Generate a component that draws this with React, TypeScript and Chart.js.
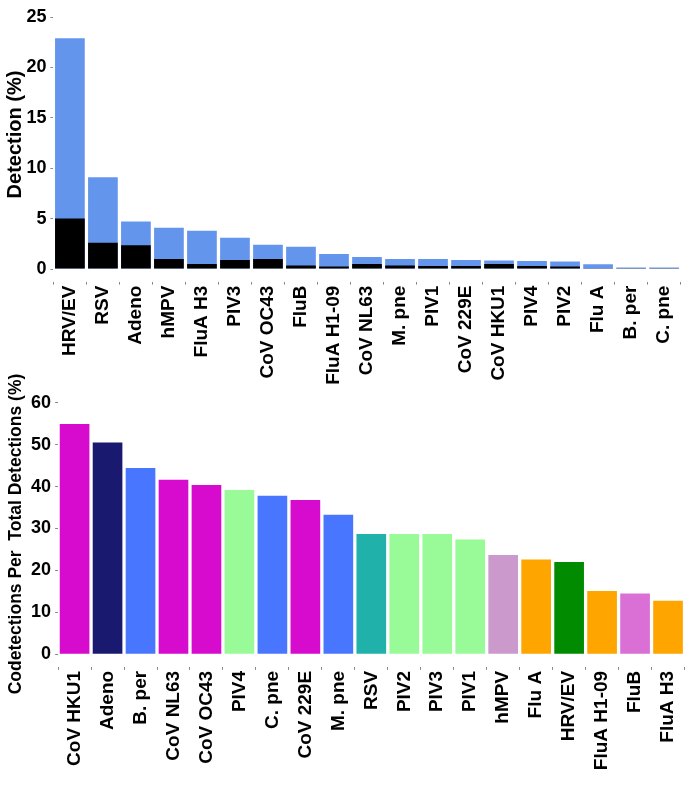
import React, { useEffect, useRef } from 'react';
import { Chart, registerables } from 'chart.js';

Chart.register(...registerables);

const FONT = "'Liberation Sans', Arial, Helvetica, sans-serif";

// ---- Top chart data ----
const TOP_CATEGORIES = ['HRV/EV', 'RSV', 'Adeno', 'hMPV', 'FluA H3', 'PIV3', 'CoV OC43', 'FluB', 'FluA H1-09', 'CoV NL63', 'M. pne', 'PIV1', 'CoV 229E', 'CoV HKU1', 'PIV4', 'PIV2', 'Flu A', 'B. per', 'C. pne'];
const TOP_TOTAL_DETECTION = [22.9, 9.1, 4.7, 4.1, 3.8, 3.1, 2.4, 2.2, 1.5, 1.2, 1.0, 1.0, 0.9, 0.85, 0.8, 0.75, 0.47, 0.15, 0.15];
const TOP_CODETECTION = [5.0, 2.6, 2.35, 1.0, 0.5, 0.9, 1.0, 0.35, 0.25, 0.5, 0.35, 0.3, 0.3, 0.5, 0.3, 0.25, 0.03, 0.08, 0.08];
const TOP_Y_TICKS = [0, 5, 10, 15, 20, 25];

// ---- Bottom chart data ----
const BOTTOM_CATEGORIES = ['CoV HKU1', 'Adeno', 'B. per', 'CoV NL63', 'CoV OC43', 'PIV4', 'C. pne', 'CoV 229E', 'M. pne', 'RSV', 'PIV2', 'PIV3', 'PIV1', 'hMPV', 'Flu A', 'HRV/EV', 'FluA H1-09', 'FluB', 'FluA H3'];
const BOTTOM_RATIO = [54.9, 50.5, 44.4, 41.6, 40.4, 39.2, 37.8, 36.8, 33.3, 28.7, 28.7, 28.7, 27.4, 23.7, 22.6, 22.0, 15.1, 14.5, 12.8];
const BOTTOM_Y_TICKS = [0, 10, 20, 30, 40, 50, 60];

const BOTTOM_COLORS = ['#D60BCD', '#191970', '#4876FF', '#D60BCD', '#D60BCD', '#98FB98', '#4876FF', '#D60BCD', '#4876FF', '#20B2AA', '#98FB98', '#98FB98', '#98FB98', '#CC99CC', '#FFA500', '#008B00', '#FFA500', '#DA70D6', '#FFA500'];

const sideTitle = {
  id: 'sideTitle',
  afterDraw(chart: any, _args: any, opts: any) {
    if (!opts || !opts.text) return;
    const ctx = chart.ctx;
    ctx.save();
    ctx.translate(opts.x, opts.y);
    ctx.rotate(-Math.PI / 2);
    ctx.font = opts.font;
    ctx.fillStyle = '#000';
    ctx.textAlign = 'center';
    ctx.textBaseline = 'middle';
    ctx.fillText(opts.text, 0, 0);
    ctx.restore();
  },
};

function xScale(height: number, stacked: boolean) {
  return {
    stacked,
    offset: true,
    grid: { display: true, drawOnChartArea: false, drawTicks: true, tickLength: 3, tickColor: '#888', tickWidth: 1 },
    border: { display: false },
    ticks: {
      font: { family: FONT, size: 19, weight: 'bold' },
      color: '#000',
      minRotation: 90,
      maxRotation: 90,
      padding: 1,
      autoSkip: false,
    },
    afterFit: (s: any) => {
      s.height = height;
    },
  };
}

function yScale(min: number, max: number, tickVals: number[], width: number) {
  return {
    stacked: false,
    min,
    max,
    afterBuildTicks: (s: any) => {
      s.ticks = tickVals.map((v) => ({ value: v }));
    },
    grid: { display: true, drawOnChartArea: false, drawTicks: true, tickLength: 3, tickColor: '#888', tickWidth: 1 },
    border: { display: false },
    ticks: { font: { family: FONT, size: 18, weight: 'bold' }, color: '#000', padding: 4 },
    afterFit: (s: any) => {
      s.width = width;
    },
  };
}

function TopChart() {
  const ref = useRef<HTMLCanvasElement | null>(null);
  useEffect(() => {
    if (!ref.current) return;
    const chart = new Chart(ref.current, {
      type: 'bar',
      data: {
        labels: TOP_CATEGORIES,
        datasets: [
          { label: 'Codetection', data: TOP_CODETECTION, backgroundColor: '#000000', barPercentage: 0.9, categoryPercentage: 1 },
          { label: 'Detection', data: TOP_TOTAL_DETECTION, backgroundColor: '#6495ED', barPercentage: 0.9, categoryPercentage: 1 },
        ],
      },
      options: {
        responsive: false,
        animation: false,
        devicePixelRatio: 1,
        layout: { padding: { left: 0, right: 11.4, top: 17, bottom: 0 } },
        plugins: {
          legend: { display: false },
          tooltip: { enabled: false },
          sideTitle: { text: 'Detection (%)', x: 15, y: 134.5, font: `bold 20px ${FONT}` },
        } as any,
        scales: {
          x: xScale(392 - 281.6, true) as any,
          y: yScale(-1.25, 25, TOP_Y_TICKS, 53.4) as any,
        },
      },
      plugins: [sideTitle as any],
    });
    return () => chart.destroy();
  }, []);
  return <canvas ref={ref} width={692} height={392} style={{ position: 'absolute', left: 0, top: 0, width: 692, height: 392 }} />;
}

function BottomChart() {
  const ref = useRef<HTMLCanvasElement | null>(null);
  useEffect(() => {
    if (!ref.current) return;
    const chart = new Chart(ref.current, {
      type: 'bar',
      data: {
        labels: BOTTOM_CATEGORIES,
        datasets: [
          { label: 'Codetections', data: BOTTOM_RATIO, backgroundColor: BOTTOM_COLORS, barPercentage: 0.9, categoryPercentage: 1 },
        ],
      },
      options: {
        responsive: false,
        animation: false,
        devicePixelRatio: 1,
        layout: { padding: { left: 0, right: 6.3, top: 42.7, bottom: 0 } },
        plugins: {
          legend: { display: false },
          tooltip: { enabled: false },
          sideTitle: { text: 'Codetections Per  Total Detections (%)', x: 16, y: 174, font: `bold 17.5px ${FONT}` },
        } as any,
        scales: {
          x: xScale(439 - 306.9, false) as any,
          y: yScale(-3, 60, BOTTOM_Y_TICKS, 58.1) as any,
        },
      },
      plugins: [sideTitle as any],
    });
    return () => chart.destroy();
  }, []);
  return <canvas ref={ref} width={692} height={439} style={{ position: 'absolute', left: 0, top: 360, width: 692, height: 439 }} />;
}

export default function App() {
  return (
    <div style={{ position: 'absolute', left: 0, top: 0, width: 692, height: 799, background: '#fff', overflow: 'hidden' }}>
      <TopChart />
      <BottomChart />
    </div>
  );
}
